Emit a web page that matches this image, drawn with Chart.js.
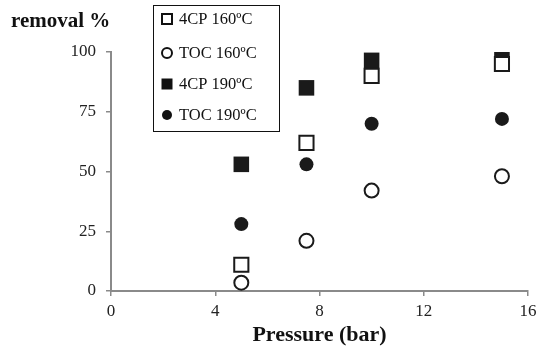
<!DOCTYPE html>
<html>
<head>
<meta charset="utf-8">
<script src="https://cdn.jsdelivr.net/npm/chart.js@4/dist/chart.umd.min.js"></script>
<style>
  html, body { margin: 0; padding: 0; background: #fff; }
  #wrap { width: 543px; height: 346px; }
</style>
</head>
<body>
<div id="wrap"><canvas id="myChart" width="543" height="346"></canvas></div>
<script>
// pressure values (bar)
const pressures = [5, 7.5, 10, 15];
// removal % for each series
const cp160 = [11, 62, 90, 95];
const toc160 = [3.5, 21, 42, 48];
const cp190 = [53, 85, 96.5, 98];
const toc190 = [28, 53, 70, 72];

const seriesLabels = ["4CP 160ºC", "TOC 160ºC", "4CP 190ºC", "TOC 190ºC"];
const xTicks = [0, 4, 8, 12, 16];
const yTicks = [0, 25, 50, 75, 100];

const serif = "'Liberation Serif', 'Times New Roman', serif";
const axisGray = "#8a8a8a";

function pts(values) {
  return pressures.map((p, i) => ({ x: p, y: values[i] }));
}

const styles = [
  { pointStyle: "rect", radius: 10, bg: "#fff", border: "#1a1a1a", bw: 2 },
  { pointStyle: "circle", radius: 7, bg: "#fff", border: "#1a1a1a", bw: 2 },
  { pointStyle: "rect", radius: 11, bg: "#1a1a1a", border: "#1a1a1a", bw: 0 },
  { pointStyle: "circle", radius: 7, bg: "#1a1a1a", border: "#1a1a1a", bw: 0 },
];
const allValues = [cp160, toc160, cp190, toc190];
const order = [1, 2, 3, 4];

const datasets = allValues.map((vals, i) => ({
  label: seriesLabels[i],
  data: pts(vals),
  pointStyle: styles[i].pointStyle,
  pointRadius: styles[i].radius,
  pointHoverRadius: styles[i].radius,
  pointBackgroundColor: styles[i].bg,
  pointBorderColor: styles[i].border,
  pointBorderWidth: styles[i].bw,
  showLine: false,
  order: order[i],
}));

// texte et légende
const extras = {
  id: "extras",
  afterDraw(chart) {
    const ctx = chart.ctx;
    ctx.save();
    ctx.fillStyle = "#111";
    ctx.font = "bold 21px " + serif;
    ctx.textBaseline = "middle";
    ctx.textAlign = "left";
    ctx.fillText("removal %", 11, 22);

    // legend box
    ctx.strokeStyle = "#111";
    ctx.lineWidth = 1;
    ctx.fillStyle = "#fff";
    ctx.fillRect(153.5, 5.5, 126, 126);
    ctx.strokeRect(153.5, 5.5, 126, 126);
    const rows = [19, 53, 84, 115];
    ctx.font = "16.5px " + serif;
    for (let i = 0; i < 4; i++) {
      const y = rows[i];
      const x = 167;
      ctx.beginPath();
      if (styles[i].pointStyle === "rect") {
        const s = i === 0 ? 5 : 5.5;
        ctx.rect(x - s, y - s, 2 * s, 2 * s);
      } else {
        ctx.arc(x, y, 5, 0, Math.PI * 2);
      }
      if (styles[i].bw > 0) {
        ctx.fillStyle = "#fff";
        ctx.fill();
        ctx.lineWidth = 2;
        ctx.strokeStyle = "#111";
        ctx.stroke();
      } else {
        ctx.fillStyle = "#111";
        ctx.fill();
      }
      ctx.fillStyle = "#111";
      ctx.fillText(seriesLabels[i], 179, y + 1);
    }
    ctx.restore();
  },
};

const ctx = document.getElementById("myChart").getContext("2d");
const myChart = new Chart(ctx, {
  type: "scatter",
  data: { datasets: datasets },
  options: {
    responsive: false,
    animation: false,
    devicePixelRatio: 1,
    layout: { padding: { top: 52, right: 15, left: 0, bottom: 0 } },
    plugins: {
      legend: { display: false },
      tooltip: { enabled: false },
    },
    scales: {
      x: {
        type: "linear",
        min: 0,
        max: 16,
        afterBuildTicks: (scale) => { scale.ticks = xTicks.map((v) => ({ value: v })); },
        afterFit: (scale) => { scale.height = 55; },
        grid: { drawOnChartArea: false, drawTicks: true, tickLength: 5, color: axisGray, lineWidth: 1.5 },
        border: { color: axisGray, width: 2 },
        ticks: { color: "#222", font: { family: serif, size: 17 }, padding: 5, maxRotation: 0 },
        title: { display: true, text: "Pressure (bar)", color: "#111", font: { family: serif, size: 22, weight: "bold" }, padding: { top: 0, bottom: -3 } },
      },
      y: {
        type: "linear",
        min: 0,
        max: 100,
        afterBuildTicks: (scale) => { scale.ticks = yTicks.map((v) => ({ value: v })); },
        afterFit: (scale) => { scale.width = 111; },
        grid: { drawOnChartArea: false, drawTicks: true, tickLength: 5, color: axisGray, lineWidth: 1.5 },
        border: { color: axisGray, width: 2 },
        ticks: { color: "#222", font: { family: serif, size: 17 }, padding: 10 },
      },
    },
  },
  plugins: [extras],
});
</script>
</body>
</html>
